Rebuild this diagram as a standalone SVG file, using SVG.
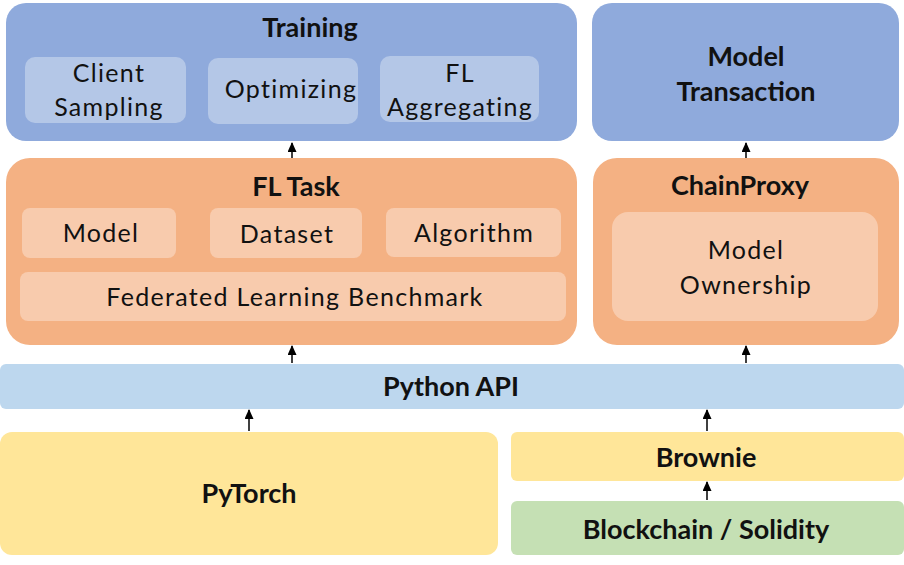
<svg xmlns="http://www.w3.org/2000/svg" width="904" height="565" viewBox="0 0 904 565">
<defs>
<marker id="ah" markerWidth="10" markerHeight="9" refX="9" refY="4.5" orient="auto" markerUnits="userSpaceOnUse" viewBox="0 0 10 9">
<path d="M0,0 L10,4.5 L0,9 Z" fill="#000"/>
</marker>
<style>
.blue{fill:#8FAADC}
.lblue{fill:#B4C7E7}
.orange{fill:#F4B183}
.lorange{fill:#F8CBAD}
.api{fill:#BDD7EE}
.yellow{fill:#FFE699}
.green{fill:#C5E0B4}
text{font-family:Lato,"Open Sans","Liberation Sans",sans-serif;fill:#111;text-anchor:middle}
.t{font-weight:bold;font-size:27px}
.r{font-size:25px;letter-spacing:1.3px}
.c{stroke:#000;stroke-width:1.5;fill:none}
</style>
</defs>
<rect width="904" height="565" fill="#fff"/>
<g id="training">
<rect class="blue" x="6" y="3" width="571" height="138" rx="20"/>
<text class="t" x="310" y="37">Training</text>
</g>
<g id="client-sampling">
<rect class="lblue" x="25" y="57" width="161" height="66" rx="10"/>
<text class="r" x="109" y="82">Client</text>
<text class="r" x="109" y="116">Sampling</text>
</g>
<g id="optimizing">
<rect class="lblue" x="208" y="58" width="150" height="66" rx="10"/>
<text class="r" x="291" y="98">Optimizing</text>
</g>
<g id="fl-aggregating">
<rect class="lblue" x="380" y="56" width="159" height="66" rx="10"/>
<text class="r" x="460" y="82">FL</text>
<text class="r" x="460" y="116">Aggregating</text>
</g>
<g id="model-transaction">
<rect class="blue" x="592" y="3" width="307" height="138" rx="20"/>
<text class="t" x="746" y="66">Model</text>
<text class="t" x="746" y="101">Transaction</text>
</g>
<g id="fl-task">
<rect class="orange" x="6" y="158" width="571" height="187" rx="24"/>
<text class="t" x="296" y="196">FL Task</text>
</g>
<g id="model">
<rect class="lorange" x="22" y="208" width="154" height="50" rx="8"/>
<text class="r" x="101" y="242">Model</text>
</g>
<g id="dataset">
<rect class="lorange" x="210" y="208" width="152" height="50" rx="8"/>
<text class="r" x="287" y="243">Dataset</text>
</g>
<g id="algorithm">
<rect class="lorange" x="386" y="208" width="175" height="49" rx="8"/>
<text class="r" x="474" y="242">Algorithm</text>
</g>
<g id="benchmark">
<rect class="lorange" x="20" y="272" width="546" height="49" rx="8"/>
<text class="r" x="295" y="306">Federated Learning Benchmark</text>
</g>
<g id="chainproxy">
<rect class="orange" x="593" y="158" width="306" height="187" rx="24"/>
<text class="t" x="740" y="195">ChainProxy</text>
</g>
<g id="model-ownership">
<rect class="lorange" x="612" y="212" width="266" height="109" rx="16"/>
<text class="r" x="746" y="259">Model</text>
<text class="r" x="746" y="294">Ownership</text>
</g>
<g id="python-api">
<rect class="api" x="0" y="364" width="904" height="45" rx="6"/>
<text class="t" x="451" y="396">Python API</text>
</g>
<g id="pytorch">
<rect class="yellow" x="0" y="432" width="498" height="123" rx="12"/>
<text class="t" x="249" y="503">PyTorch</text>
</g>
<g id="brownie">
<rect class="yellow" x="511" y="432" width="393" height="49" rx="6"/>
<text class="t" x="706" y="467">Brownie</text>
</g>
<g id="blockchain">
<rect class="green" x="511" y="501" width="393" height="54" rx="6"/>
<text class="t" x="706" y="539">Blockchain / Solidity</text>
</g>
<g id="connectors">
<line class="c" x1="292" y1="158" x2="292" y2="143" marker-end="url(#ah)"/>
<line class="c" x1="746" y1="158" x2="746" y2="143" marker-end="url(#ah)"/>
<line class="c" x1="292" y1="363" x2="292" y2="346" marker-end="url(#ah)"/>
<line class="c" x1="746" y1="363" x2="746" y2="346" marker-end="url(#ah)"/>
<line class="c" x1="249" y1="431" x2="249" y2="410" marker-end="url(#ah)"/>
<line class="c" x1="707" y1="431" x2="707" y2="410" marker-end="url(#ah)"/>
<line class="c" x1="707" y1="500" x2="707" y2="482" marker-end="url(#ah)"/>
</g>
</svg>
